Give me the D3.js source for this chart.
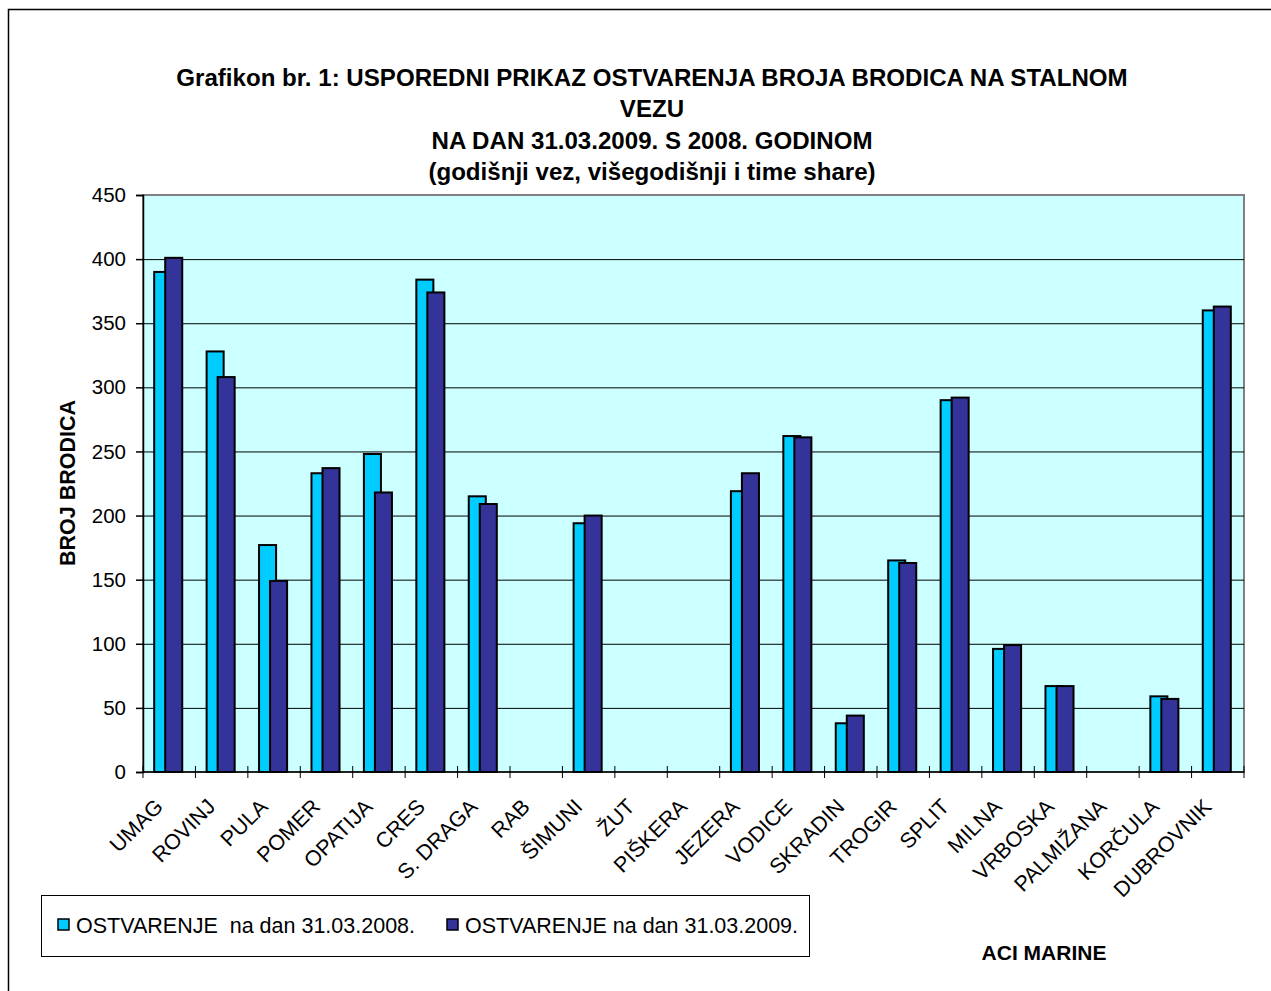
<script src="https://cdn.jsdelivr.net/npm/d3@7"></script>
<body style="margin: 0; background: white;">
<svg id="vis"></svg>
</body>
<script>

  /***** DATA *****/
  var marinas = ['UMAG', 'ROVINJ', 'PULA', 'POMER', 'OPATIJA', 'CRES', 'S. DRAGA', 'RAB', 'ŠIMUNI', 'ŽUT',
    'PIŠKERA', 'JEZERA', 'VODICE', 'SKRADIN', 'TROGIR', 'SPLIT', 'MILNA', 'VRBOSKA', 'PALMIŽANA', 'KORČULA', 'DUBROVNIK']
  var values2008 = [390, 328, 177, 233, 248, 384, 215, null, 194, null,
    null, 219, 262, 38, 165, 290, 96, 67, null, 59, 360]
  var values2009 = [401, 308, 149, 237, 218, 374, 209, null, 200, null,
    null, 233, 261, 44, 163, 292, 99, 67, null, 57, 363]
  var seriesNames = ['OSTVARENJE  na dan 31.03.2008.', 'OSTVARENJE na dan 31.03.2009.']
  var yTicks = [0, 50, 100, 150, 200, 250, 300, 350, 400, 450]
  var titleLines = [
    'Grafikon br. 1: USPOREDNI PRIKAZ OSTVARENJA BROJA BRODICA NA STALNOM',
    'VEZU',
    'NA DAN 31.03.2009. S 2008. GODINOM',
    '(godišnji vez, višegodišnji i time share)'
  ]

  /***** SETUP *****/
  var font = 'Arial, "Liberation Sans", sans-serif'
  var colors = ['#00CCFF', '#333399']

  var svg = d3.select('#vis')
  .attr('width', 1271)
  .attr('height', 991)
  .style('display', 'block')

  // outer chart border
  svg.append('rect')
  .attr('x', 8.5)
  .attr('y', 9.5)
  .attr('width', 1400)
  .attr('height', 1100)
  .attr('fill', 'white')
  .attr('stroke', 'black')
  .attr('stroke-width', 1.5)

  var plot = { left: 143, right: 1244, top: 195, bottom: 772 }

  var x = d3.scaleBand()
  .domain(marinas)
  .range([plot.left, plot.right])

  var y = d3.scaleLinear()
  .domain([0, 450])
  .range([plot.bottom, plot.top])

  // plot background
  svg.append('rect')
  .attr('x', plot.left)
  .attr('y', plot.top)
  .attr('width', plot.right - plot.left)
  .attr('height', plot.bottom - plot.top)
  .attr('fill', '#CCFFFF')
  .attr('stroke', '#808080')
  .attr('stroke-width', 2)

  // gridlines
  svg.append('g')
  .selectAll('line')
  .data(yTicks.filter(function(d) { return d > 0 && d < 450 }))
  .enter()
  .append('line')
  .attr('x1', plot.left)
  .attr('x2', plot.right)
  .attr('y1', function(d) { return y(d) + 0.5 })
  .attr('y2', function(d) { return y(d) + 0.5 })
  .attr('stroke', 'black')
  .attr('stroke-width', 1)

  /***** BARS *****/
  var bw = x.bandwidth()
  var barWidth = bw * 0.325
  var barOffset = bw * 0.21
  var groupStart = (bw - barWidth - barOffset) / 2 - 1

  var series = [values2008, values2009]
  series.forEach(function(vals, s) {
    svg.append('g')
    .selectAll('rect')
    .data(marinas.map(function(m, i) { return { name: m, value: vals[i] } })
      .filter(function(d) { return d.value != null }))
    .enter()
    .append('rect')
    .attr('x', function(d) { return x(d.name) + groupStart + s * barOffset })
    .attr('y', function(d) { return y(d.value) })
    .attr('width', barWidth)
    .attr('height', function(d) { return plot.bottom - y(d.value) })
    .attr('fill', colors[s])
    .attr('stroke', 'black')
    .attr('stroke-width', 2)
  })

  /***** AXES *****/
  var yAxis = svg.append('g')
  .attr('transform', 'translate(' + plot.left + ',0)')
  .call(d3.axisLeft(y).tickValues(yTicks).tickSize(7).tickPadding(10))
  yAxis.select('.domain').attr('stroke', 'black').attr('stroke-width', 1.5)
  yAxis.selectAll('.tick line').attr('stroke', 'black').attr('stroke-width', 1.5)
  yAxis.selectAll('text')
  .style('font-family', font)
  .style('font-size', '20.5px')
  .attr('fill', 'black')

  // x axis line with ticks between categories
  svg.append('line')
  .attr('x1', plot.left)
  .attr('x2', plot.right)
  .attr('y1', plot.bottom)
  .attr('y2', plot.bottom)
  .attr('stroke', 'black')
  .attr('stroke-width', 1.5)

  svg.append('g')
  .selectAll('line')
  .data(marinas.concat(['end']))
  .enter()
  .append('line')
  .attr('x1', function(d, i) { return plot.left + i * bw })
  .attr('x2', function(d, i) { return plot.left + i * bw })
  .attr('y1', plot.bottom - 6)
  .attr('y2', plot.bottom + 6)
  .attr('stroke', 'black')
  .attr('stroke-width', 1)

  svg.append('g')
  .selectAll('text')
  .data(marinas)
  .enter()
  .append('text')
  .text(function(d) { return d })
  .attr('text-anchor', 'end')
  .attr('transform', function(d) {
    return 'translate(' + (x(d) + bw / 2 - 5) + ',' + (plot.bottom + 36) + ') rotate(-45)'
  })
  .style('font-family', font)
  .style('font-size', '21.5px')
  .attr('fill', 'black')

  /***** TITLES *****/
  svg.append('g')
  .selectAll('text')
  .data(titleLines)
  .enter()
  .append('text')
  .text(function(d) { return d })
  .attr('x', 652)
  .attr('y', function(d, i) { return 86 + i * 31.3 })
  .attr('text-anchor', 'middle')
  .style('font-family', font)
  .style('font-size', '24.1px')
  .style('font-weight', 'bold')
  .attr('fill', 'black')

  svg.append('text')
  .text('BROJ BRODICA')
  .attr('transform', 'translate(75,483) rotate(-90)')
  .attr('text-anchor', 'middle')
  .style('font-family', font)
  .style('font-size', '21.5px')
  .style('font-weight', 'bold')
  .attr('fill', 'black')

  svg.append('text')
  .text('ACI MARINE')
  .attr('x', 1044)
  .attr('y', 960)
  .attr('text-anchor', 'middle')
  .style('font-family', font)
  .style('font-size', '21px')
  .style('font-weight', 'bold')
  .attr('fill', 'black')

  /***** LEGEND *****/
  svg.append('rect')
  .attr('x', 41.5)
  .attr('y', 895.5)
  .attr('width', 768)
  .attr('height', 61)
  .attr('fill', 'white')
  .attr('stroke', 'black')
  .attr('stroke-width', 1)

  var legendX = [58, 447]
  seriesNames.forEach(function(name, i) {
    svg.append('rect')
    .attr('x', legendX[i])
    .attr('y', 919)
    .attr('width', 11)
    .attr('height', 11)
    .attr('fill', colors[i])
    .attr('stroke', 'black')
    .attr('stroke-width', 1.5)

    svg.append('text')
    .text(name)
    .attr('x', legendX[i] + 18)
    .attr('y', 933)
    .attr('xml:space', 'preserve')
    .style('white-space', 'pre')
    .style('font-family', font)
    .style('font-size', '21.5px')
    .attr('fill', 'black')
  })

</script>
